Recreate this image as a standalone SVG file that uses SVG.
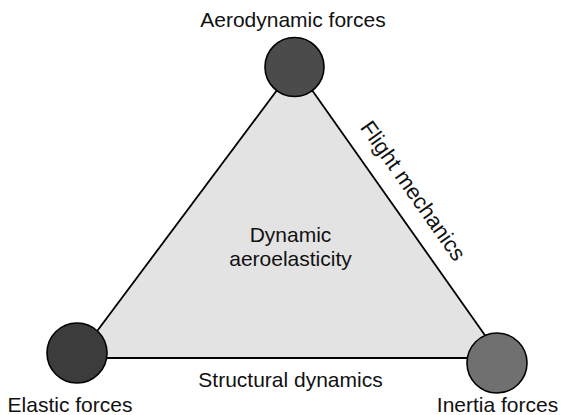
<svg xmlns="http://www.w3.org/2000/svg" width="561" height="415" viewBox="0 0 561 415">
<style>
text{font-family:"Liberation Sans",Arial,sans-serif;font-size:21px;fill:#111;}
.c{stroke:#000;stroke-width:1.6;}
.edge{stroke:#000;stroke-width:1.8;fill:none;}
</style>
<rect width="561" height="415" fill="#fff"/>
<g id="area">
<polygon points="295,66 77,358 501,358" fill="#e3e3e3"/>
<text x="290.5" y="242" text-anchor="middle">Dynamic</text>
<text x="290.5" y="266" text-anchor="middle">aeroelasticity</text>
</g>
<g id="connectors">
<line class="edge" x1="295" y1="66" x2="77" y2="358"/>
<line class="edge" x1="77" y1="358" x2="501" y2="358"/>
<line class="edge" x1="295" y1="66" x2="501" y2="358"/>
<text x="290.5" y="387" text-anchor="middle">Structural dynamics</text>
<text transform="translate(407,195) rotate(54.8)" text-anchor="middle" style="font-size:22px">Flight mechanics</text>
</g>
<g id="aero">
<circle class="c" cx="294.5" cy="67" r="29.5" fill="#4b4b4b"/>
<text x="293" y="27" text-anchor="middle">Aerodynamic forces</text>
</g>
<g id="elastic">
<circle class="c" cx="77" cy="353" r="30" fill="#3c3c3c"/>
<text x="70" y="412" text-anchor="middle">Elastic forces</text>
</g>
<g id="inertia">
<circle class="c" cx="497" cy="363" r="30" fill="#707070"/>
<text x="497.5" y="412" text-anchor="middle">Inertia forces</text>
</g>
</svg>
